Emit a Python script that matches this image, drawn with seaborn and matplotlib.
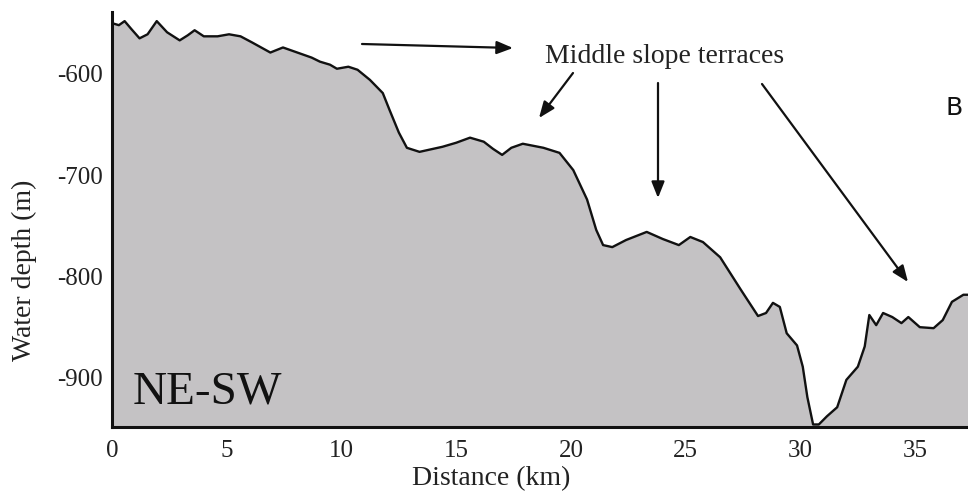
import numpy as np
import pandas as pd
import matplotlib
matplotlib.use("Agg")
import matplotlib.pyplot as plt
import seaborn as sns

distance_km = [0, 0.3, 0.55, 0.85, 1.2, 1.55, 1.95, 2.4, 2.95, 3.3, 3.6, 4.0, 4.6, 5.1,
               5.6, 6.1, 6.5, 6.9, 7.45, 8.2, 8.7, 9.06, 9.5, 9.8, 10.3, 10.7, 11.24,
               11.8, 12.1, 12.5, 12.85, 13.4, 14.4, 15.0, 15.6, 16.2, 16.6, 17.0, 17.4,
               17.9, 18.8, 19.5, 20.1, 20.7, 21.1, 21.4, 21.8, 22.4, 23.3, 24.0, 24.7,
               25.2, 25.75, 26.5, 27.4, 28.15, 28.5, 28.8, 29.1, 29.4, 29.85, 30.1,
               30.3, 30.55, 30.8, 31.15, 31.6, 32.0, 32.5, 32.8, 33.0, 33.3, 33.6,
               34.0, 34.4, 34.7, 35.2, 35.8, 36.2, 36.6, 37.1, 37.5]
depth_m = [-550, -552, -548, -556, -565, -561, -548, -559, -567, -562, -557, -563, -563,
           -561, -563, -569, -574, -579, -574, -580, -584, -588, -591, -595, -593, -596,
           -606, -619, -636, -658, -673, -677, -672, -668, -663, -667, -674, -680, -673,
           -669, -673, -678, -695, -724, -754, -769, -771, -764, -756, -763, -769, -761,
           -766, -781, -813, -839, -836, -826, -830, -856, -868, -889, -919, -946, -946,
           -938, -929, -902, -889, -869, -838, -848, -836, -840, -846, -840, -850, -851,
           -843, -825, -818, -818]

x_ticks = [0, 5, 10, 15, 20, 25, 30, 35]
y_ticks = [-600, -700, -800, -900]
x_label = "Distance (km)"
y_label = "Water depth (m)"
annotation_text = "Middle slope terraces"
profile_label = "NE-SW"
panel_letter = "B"

df = pd.DataFrame({"distance": distance_km, "depth": depth_m})

sns.set_theme(style="white")
plt.rcParams["font.family"] = ["Liberation Serif", "DejaVu Serif"]

W, H = 968, 496
fig = plt.figure(figsize=(W / 100, H / 100), dpi=100)
ax = fig.add_axes([112 / W, 69 / H, 856 / W, 415 / H])

ymin, ymax = -948.5, -539
ax.fill_between(df["distance"], df["depth"], ymin, color="#c4c2c4", lw=0, zorder=1)
sns.lineplot(data=df, x="distance", y="depth", ax=ax, color="#111111", lw=1.7,
             sort=False, zorder=2, solid_joinstyle="round", solid_capstyle="round")

ax.set_xlim(0, 37.3)
ax.set_ylim(ymin, ymax)
ax.set_xticks(x_ticks)
ax.set_yticks(y_ticks)
ax.set_xticklabels([str(t) for t in x_ticks])
ax.set_yticklabels([str(t) for t in y_ticks])
ax.tick_params(axis="both", direction="inout", length=7, width=1.6,
               labelsize=18, color="#111111", labelcolor="#222222")
ax.tick_params(axis="x", pad=6)
ax.tick_params(axis="y", pad=3)

for s in ["top", "right"]:
    ax.spines[s].set_visible(False)
for s in ["left", "bottom"]:
    ax.spines[s].set_linewidth(2.2)
    ax.spines[s].set_color("#111111")
    ax.spines[s].set_zorder(3)

ax.set_xlabel(x_label, fontsize=20, color="#222222")
ax.set_ylabel(y_label, fontsize=20, color="#222222")
ax.xaxis.set_label_coords(0.443, -0.093)
ax.yaxis.set_label_coords(-0.088, 0.378)

# annotations (figure pixel coordinates, origin bottom-left)
def fp(x, y):
    return (x, H - y)

arrow_kw = dict(arrowstyle="-|>,head_length=0.7,head_width=0.28", lw=1.6,
                color="#111111", shrinkA=0, shrinkB=0, mutation_scale=14)
for tail, tip in [((362, 44), (513, 48)), ((573, 73), (539, 118)),
                  ((658, 83), (658, 198)), ((762, 84), (908, 282))]:
    fig.add_artist(matplotlib.patches.FancyArrowPatch(
        posA=fp(*tail), posB=fp(*tip), transform=None, **arrow_kw))

fig.text(545 / W, 1 - 63 / H, annotation_text, fontsize=20, ha="left",
         va="baseline", color="#222222")
fig.text(133 / W, 1 - 403 / H, profile_label, fontsize=34, ha="left",
         va="baseline", color="#111111")
fig.text(945 / W, 1 - 115 / H, panel_letter, fontsize=18, ha="left",
         va="baseline", color="#111111", family=["DejaVu Sans"])

fig.savefig("out.png", dpi=100, facecolor="white")
